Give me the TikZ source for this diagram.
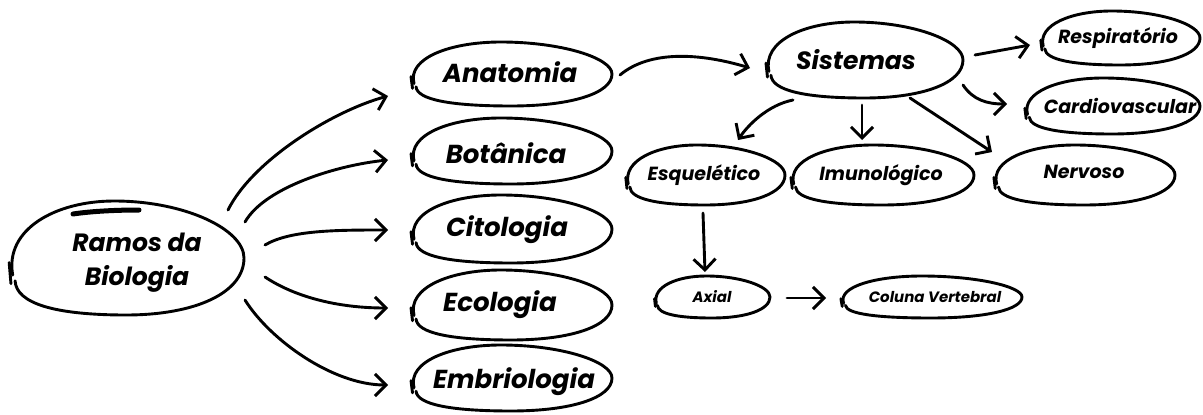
\documentclass[tikz,border=0pt]{standalone}
\usepackage{fontspec}
\newfontfamily\hand{Poppins}
\usetikzlibrary{arrows.meta,calc,shapes.geometric}

\tikzset{
  bub/.style={ellipse, inner sep=0pt, draw=none},
  outline/.style={line width=2.9pt, line cap=round, line join=round},
  arr/.style={line width=2.9pt, line cap=round,
    -{Straight Barb[length=11pt,width=22pt]}},
}

% #1 name, #2 #3 centre, #4 #5 half width / half height,
% #6 font size, #7 #8 text offset, #9 text
\newcommand\bubble[9]{%
  \node[bub, minimum width={2*#4pt}, minimum height={2*#5pt}] (#1) at (#2,#3) {};
  \node[inner sep=0pt, align=center,
        font=\hand\bfseries\itshape\fontsize{#6pt}{\dimexpr #6pt*27/20\relax}\selectfont]
        (#1-t) at ($(#1.center)+(#7,#8)$) {#9};
  \begin{scope}[shift={(#1.center)}, xscale=#4, yscale=#5]
    \draw[outline] (-0.96,0.3)
      .. controls (-1.03,-0.5) and (-0.6,-1) .. (-0.1,-1)
      .. controls (0.5,-1) and (1,-0.5) .. (1,0)
      .. controls (1,0.6) and (0.6,1) .. (0,1)
      .. controls (-0.6,1) and (-0.93,0.8) .. (-0.94,0.4);
    \draw[outline] (-0.99,0.08) -- (-0.975,0.45);
  \end{scope}
}

\begin{document}
\begin{tikzpicture}[x=1pt, y=-1pt]
  \useasboundingbox (0,0) rectangle (1203,415);
  \fill[white] (0,0) rectangle (1203,415);

  % root
  \bubble{ramos}{126}{258}{118}{57}{25}{11}{5}{Ramos da\\Biologia}
  \draw[line width=5pt, line cap=round]
    ($(ramos.center)+(-53,-44)$) .. controls +(20,-3) and +(-20,0) .. ($(ramos.center)+(13,-48)$);

  % branches
  \bubble{anat}{511}{74}{101}{32}{26}{-1}{-2}{Anatomia}
  \bubble{bota}{511}{151}{101}{33}{26}{-5}{2}{Botânica}
  \bubble{cito}{511}{229}{101}{34}{26}{-4}{1}{Citologia}
  \bubble{eco}{511}{305}{101}{35}{26}{-11}{0}{Ecologia}
  \bubble{embr}{511}{378}{101}{33}{26}{3}{4}{Embriologia}

  % systems
  \bubble{sist}{864}{60}{99}{38}{25}{-8}{0}{Sistemas}
  \bubble{resp}{1120}{38}{80}{27}{19}{-2}{0}{Respiratório}
  \bubble{card}{1112}{106}{88}{28}{19}{8}{0}{Cardiovascular}
  \bubble{esq}{705}{175}{80}{30}{19}{-1}{0}{Esquelético}
  \bubble{imun}{882}{175}{92}{30}{19}{-1}{0}{Imunológico}
  \bubble{nerv}{1084}{175}{91}{30}{19}{0}{-3}{Nervoso}
  \bubble{axial}{712}{297}{58}{21}{15}{0}{0}{Axial}
  \bubble{coluna}{931}{297}{91}{21}{15}{4}{0}{Coluna Vertebral}

  % connectors
  \draw[arr] ($(ramos.center)+(102,-48)$) .. controls +(25,-50) and +(-55,15) .. ($(anat.center)+(-123,22)$);
  \draw[arr] ($(ramos.center)+(119,-36)$) .. controls +(20,-35) and +(-50,5) .. ($(bota.center)+(-123,9)$);
  \draw[arr] ($(ramos.center)+(139,-13)$) .. controls +(25,-15) and +(-50,0) .. ($(cito.center)+(-123,1)$);
  \draw[arr] ($(ramos.center)+(139,19)$) .. controls +(30,20) and +(-50,0) .. ($(eco.center)+(-123,3)$);
  \draw[arr] ($(ramos.center)+(119,42)$) .. controls +(25,40) and +(-55,0) .. ($(embr.center)+(-123,7)$);

  \draw[arr] ($(anat.center)+(109,1)$) .. controls +(30,-25) and +(-50,-15) .. ($(sist.center)+(-114,8)$);
  \draw[arr] ($(sist.center)+(111,-5)$) -- ($(resp.center)+(-90,7)$);
  \draw[arr] ($(sist.center)+(99,25)$) .. controls +(10,15) and +(-20,0) .. ($(card.center)+(-105,-2)$);
  \draw[arr] ($(sist.center)+(-71,40)$) .. controls +(-25,5) and +(10,-15) .. ($(esq.center)+(33,-35)$);
  \draw[arr] ($(sist.center)+(-2,45)$) -- ($(imun.center)+(-20,-35)$);
  \draw[arr] ($(sist.center)+(46,38)$) -- ($(nerv.center)+(-92,-23)$);
  \draw[arr] ($(esq.center)+(-2,38)$) -- ($(axial.center)+(-7,-25)$);
  \draw[arr] ($(axial.center)+(75,1)$) -- ($(coluna.center)+(-105,1)$);
\end{tikzpicture}
\end{document}
